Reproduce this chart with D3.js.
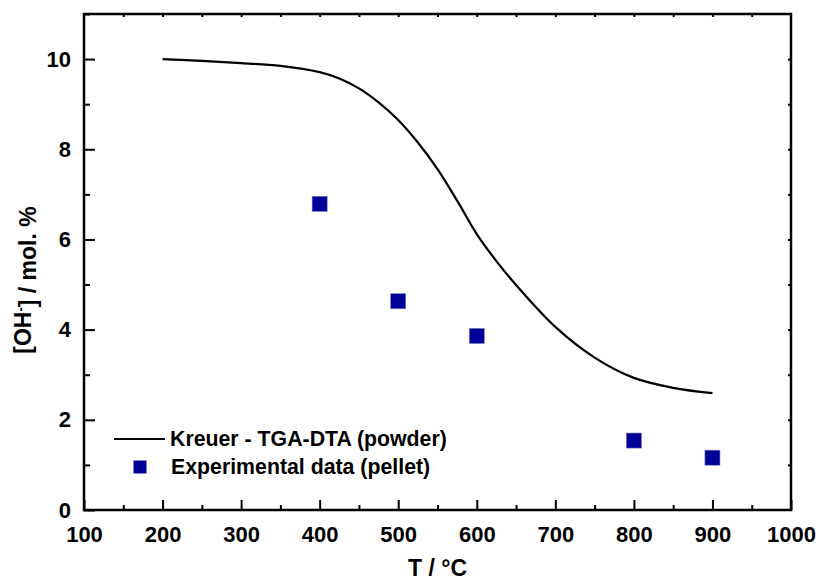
<!DOCTYPE html>
<html>
<head>
<meta charset="utf-8">
<script src="https://cdn.jsdelivr.net/npm/d3@7"></script>
<style>
  body { margin: 0; background: #fff; }
  svg { display: block; font-family: "Liberation Sans", Arial, sans-serif; font-weight: bold; }
</style>
</head>
<body>
<div id="chart"></div>
<script>
// curve: Kreuer TGA-DTA (powder)
var curveT = [200, 250, 300, 350, 400, 425, 450, 475, 500, 525, 550, 575, 600, 625, 650, 700, 750, 800, 850, 900];
var curveOH = [10.0, 9.96, 9.91, 9.85, 9.71, 9.57, 9.35, 9.04, 8.65, 8.15, 7.56, 6.86, 6.12, 5.52, 4.99, 4.06, 3.38, 2.93, 2.71, 2.59];
// experimental points (pellet)
var expT = [400, 500, 600, 800, 900];
var expOH = [6.79, 4.63, 3.86, 1.54, 1.16];
var xTicks = [100, 200, 300, 400, 500, 600, 700, 800, 900, 1000];
var yTicks = [0, 2, 4, 6, 8, 10];

var margin = {top: 14, right: 25, bottom: 75, left: 84},
    width = 816 - margin.left - margin.right,
    height = 585 - margin.top - margin.bottom;

var svg = d3.select("#chart").append("svg")
    .attr("width", 816).attr("height", 585)
  .append("g")
    .attr("transform", "translate(" + margin.left + "," + margin.top + ")");

var x = d3.scaleLinear().domain([100, 1000]).range([0, width]);
var y = d3.scaleLinear().domain([0, 11]).range([height, 0]);

var minorX = d3.range(150, 1000, 100);
var minorY = d3.range(1, 12, 2);

function styleAxis(g) {
  g.select(".domain").remove();
  g.selectAll(".tick line").attr("stroke", "#000").attr("stroke-width", 2);
  g.selectAll(".tick text").attr("fill", "#000").style("font-size", "22px").style("font-weight", "bold");
}

// bottom axis: major ticks inward
svg.append("g")
    .attr("transform", "translate(0," + height + ")")
    .call(d3.axisBottom(x).tickValues(xTicks).tickSize(-10).tickPadding(16).tickFormat(d3.format("d")))
    .call(styleAxis);
svg.append("g")
    .attr("transform", "translate(0," + height + ")")
    .call(d3.axisBottom(x).tickValues(minorX).tickSize(-5).tickFormat(""))
    .call(styleAxis);

// left axis
svg.append("g")
    .call(d3.axisLeft(y).tickValues(yTicks).tickSize(-11).tickPadding(13).tickFormat(d3.format("d")))
    .call(styleAxis);
svg.append("g")
    .call(d3.axisLeft(y).tickValues(minorY).tickSize(-6).tickFormat(""))
    .call(styleAxis);

// top and right axes: small inward ticks
svg.append("g")
    .call(d3.axisTop(x).tickValues(d3.range(150, 1000, 50)).tickSize(-3).tickFormat(""))
    .call(styleAxis);
svg.append("g")
    .attr("transform", "translate(" + width + ",0)")
    .call(d3.axisRight(y).tickValues(d3.range(1, 11, 1)).tickSize(-3).tickFormat(""))
    .call(styleAxis);

// frame
svg.append("rect")
    .attr("x", 0).attr("y", 0)
    .attr("width", width).attr("height", height)
    .attr("fill", "none").attr("stroke", "#000").attr("stroke-width", 2.5);

// curve
var line = d3.line()
    .x(function(d, i) { return x(curveT[i]); })
    .y(function(d) { return y(d); })
    .curve(d3.curveCatmullRom.alpha(0.5));
svg.append("path")
    .datum(curveOH)
    .attr("d", line)
    .attr("fill", "none")
    .attr("stroke", "#000")
    .attr("stroke-width", 2.2);

// squares
var sq = 15;
svg.selectAll(".pt")
    .data(expOH)
  .enter().append("rect")
    .attr("class", "pt")
    .attr("x", function(d, i) { return x(expT[i]) - sq / 2; })
    .attr("y", function(d) { return y(d) - sq / 2; })
    .attr("width", sq).attr("height", sq)
    .attr("fill", "#000099")
    .attr("stroke", "#6f6fc0").attr("stroke-width", 0.6);

// legend
var lg = svg.append("g").attr("transform", "translate(" + (-margin.left) + "," + (-margin.top) + ")");
lg.append("line")
    .attr("x1", 114).attr("x2", 165)
    .attr("y1", 439).attr("y2", 439)
    .attr("stroke", "#000").attr("stroke-width", 2.2);
lg.append("text")
    .attr("x", 170).attr("y", 439)
    .attr("dy", "0.35em")
    .style("font-size", "21.3px")
    .text("Kreuer - TGA-DTA (powder)");
lg.append("rect")
    .attr("x", 140 - 6.5).attr("y", 467 - 6.5)
    .attr("width", 13).attr("height", 13)
    .attr("fill", "#000099");
lg.append("text")
    .attr("x", 171).attr("y", 467)
    .attr("dy", "0.35em")
    .style("font-size", "21.3px")
    .text("Experimental data (pellet)");

// axis titles
svg.append("text")
    .attr("x", width / 2)
    .attr("y", height + 66)
    .style("text-anchor", "middle")
    .style("font-size", "23px")
    .text("T / °C");

var yl = svg.append("text")
    .attr("transform", "translate(" + (-margin.left + 31) + "," + (280 - margin.top) + ") rotate(-90)")
    .style("text-anchor", "middle")
    .style("font-size", "23px");
yl.append("tspan").text("[OH");
yl.append("tspan").attr("dy", "-0.5em").style("font-size", "13px").text("-");
yl.append("tspan").attr("dy", "0.5em").text("] / mol. %");
</script>
</body>
</html>
